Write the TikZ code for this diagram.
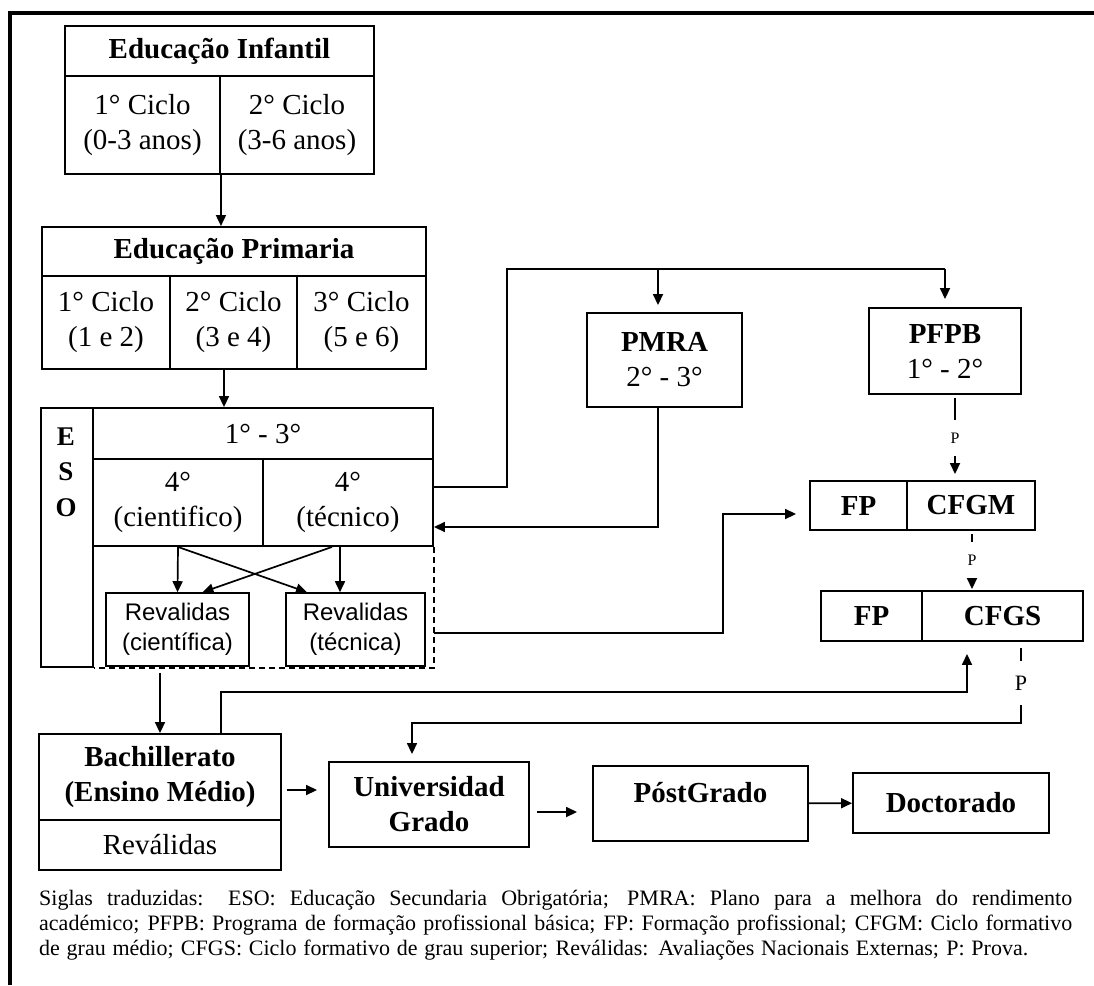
\documentclass[tikz,border=0pt]{standalone}
\usepackage{fontspec}
\setmainfont{Liberation Serif}
\setsansfont{Liberation Sans}
\usepackage{tikz}
\usetikzlibrary{positioning,arrows.meta,calc}
\tikzset{
  cell/.style   = {draw, line width=1.9pt, inner sep=0pt, align=center, font=\fontsize{29}{35}\selectfont},
  tcell/.style  = {cell, font=\fontsize{29}{35}\selectfont\bfseries},
  rcell/.style  = {cell, line width=1.6pt, font=\fontsize{24}{30}\selectfont\sffamily},
  plabel/.style = {inner xsep=2pt, inner ysep=13pt, font=\fontsize{16}{16}\selectfont},
  line/.style   = {line width=1.7pt},
  arr/.style    = {line, -{Triangle[length=11pt, width=10pt]}},
  legend/.style = {inner sep=0pt, align=left, anchor=west, font=\fontsize{22}{25}\selectfont},
}

\begin{document}
\begin{tikzpicture}[x=1pt, y=-1pt]
  \useasboundingbox (0,0) rectangle (1094,985);
  \draw[line width=3.5pt] (10,985) -- (10,13) -- (1094,13);

  \node[tcell, minimum width=309pt, minimum height=50pt] (inft) at (219.5,51) {Educação Infantil};
  \node[cell, minimum width=155pt, minimum height=98pt] (inf1) at (142.5,125) {1° Ciclo\\(0-3 anos)};
  \node[cell, minimum width=154pt, minimum height=98pt] (inf2) at (297,125) {2° Ciclo\\(3-6 anos)};

  \node[tcell, minimum width=384pt, minimum height=49pt] (primt) at (234,251.5) {Educação Primaria};
  \node[cell, minimum width=128pt, minimum height=93pt] (prim1) at (106,322.5) {1° Ciclo\\(1 e 2)};
  \node[cell, minimum width=127pt, minimum height=93pt] (prim2) at (233.5,322.5) {2° Ciclo\\(3 e 4)};
  \node[cell, minimum width=129pt, minimum height=93pt] (prim3) at (361.5,322.5) {3° Ciclo\\(5 e 6)};

  \node[cell, minimum width=52pt, minimum height=259pt] (esol) at (67,537.5) {};
  \node[align=center, inner sep=0pt, font=\fontsize{27}{35.5}\selectfont\bfseries] (esotxt) at (66,472) {E\\S\\O};
  \node[cell, minimum width=340pt, minimum height=51pt] (eso13) at (263,433.5) {1° - 3°};
  \node[cell, minimum width=170pt, minimum height=87pt] (sci) at (178,502.5) {4°\\(cientifico)};
  \node[cell, minimum width=170pt, minimum height=87pt] (tec) at (348,502.5) {4°\\(técnico)};
  \node[rcell, minimum width=143pt, minimum height=73pt] (revc) at (177.5,629.5) {Revalidas\\(científica)};
  \node[rcell, minimum width=139pt, minimum height=73pt] (revt) at (355.5,629.5) {Revalidas\\(técnica)};

  \node[cell, minimum width=155pt, minimum height=94pt] (pmra) at (664.5,360) {\textbf{PMRA}\\2° - 3°};
  \node[cell, minimum width=152pt, minimum height=86pt] (pfpb) at (945,351) {\textbf{PFPB}\\1° - 2°};

  \node[tcell, minimum width=97pt, minimum height=49pt] (fp1) at (858.5,505.5) {FP};
  \node[tcell, minimum width=128pt, minimum height=49pt] (cfgm) at (971,505.5) {CFGM};
  \node[tcell, minimum width=101pt, minimum height=50pt] (fp2) at (871.5,616) {FP};
  \node[tcell, minimum width=161pt, minimum height=50pt] (cfgs) at (1002.5,616) {CFGS};

  \node[plabel] (p1) at (955,438) {P};
  \node[plabel] (p2) at (972,560) {P};
  \node[plabel, inner ysep=15pt, font=\fontsize{22}{22}\selectfont] (p3) at (1021,683) {P};

  \node[tcell, minimum width=242pt, minimum height=86pt] (bach) at (160,777) {Bachillerato\\(Ensino Médio)};
  \node[cell, minimum width=242pt, minimum height=50pt] (bachrev) at (160,845) {Reválidas};
  \node[tcell, minimum width=200pt, minimum height=85pt] (univ) at (429,804.5) {Universidad\\Grado};
  \node[tcell, minimum width=215pt, minimum height=75pt, text height=20pt, text depth=22pt] (pg) at (700.5,803.5) {PóstGrado};
  \node[tcell, minimum width=196pt, minimum height=60pt] (doc) at (951,803) {Doctorado};

  \coordinate (bus) at (507,269);
  \coordinate (bus2) at (0,723);
  \coordinate (pmx) at (658,0);
  \coordinate (pe) at ($(prim2.south)+(-9.5,0)$);

  \draw[arr] (inf1.south east) -- (inf1.south east |- primt.north);
  \draw[arr] (pe) -- (pe |- eso13.north);
  \draw[arr] (sci.south) -- (revc.north);
  \draw[arr] (sci.south) -- ($(revt.north)+(-48.5,0)$);
  \draw[arr] ($(tec.south)+(-16,0)$) -- ($(revc.north)+(25,0)$);
  \draw[arr] ($(tec.south)+(-8,0)$) -- ($(revt.north)+(-15.5,0)$);
  \draw[line, dash pattern=on 6pt off 4pt] (tec.south east) |- (esol.south east);

  \draw[line] ($(tec.east)+(0,-15.5)$) -| (bus) -- (bus -| pfpb.north);
  \draw[arr, shorten >=7pt] (bus -| pmx) -- (pmx |- pmra.north);
  \draw[arr, shorten >=8pt] (bus -| pfpb.north) -- (pfpb.north);
  \draw[arr] (pmx |- pmra.south) |- ($(tec.east)+(0,24.5)$);

  \draw[line, shorten <=3pt] (pfpb.south -| p1) -- (p1);
  \draw[arr, shorten >=6pt] (p1) -- (p1 |- cfgm.north);
  \draw[line, shorten <=3pt] (cfgm.south -| p2) -- (p2);
  \draw[arr, shorten >=1pt] (p2) -- (p2 |- cfgs.north);

  \draw[arr, shorten >=13pt] ($(revt.east -| tec.east)+(0,3.5)$) -- ++(289,0) |- ($(fp1.west)+(0,8.5)$);
  \draw[arr, shorten <=6pt] (revc.south -| bach.north) -- (bach.north);
  \draw[arr, shorten >=12pt] ($(bach.north)+(61,0)$) -- ++(0,-41) -| ($(cfgs.south)+(-35.5,0)$);
  \draw[line, shorten <=6pt] (cfgs.south -| p3) -- (p3);
  \draw[arr, shorten >=7pt] (p3) -- (p3 |- bus2) -| ($(univ.north)+(-17,0)$);

  \draw[arr, shorten <=5pt, shorten >=11pt] ($(bach.east)+(0,13)$) -- ($(univ.west)+(0,-14.5)$);
  \draw[arr, shorten <=7pt, shorten >=15pt] ($(univ.east)+(0,7.5)$) -- ($(pg.west)+(0,8.5)$);
  \draw[arr] (pg) -- (doc);

  \node[legend] (legend) at (39,925) {\makebox[1033pt][s]{Siglas traduzidas: ESO: Educação Secundaria Obrigatória; PMRA: Plano para a melhora do rendimento}\\
    \makebox[1033pt][s]{académico; PFPB: Programa de formação profissional básica; FP: Formação profissional; CFGM: Ciclo formativo}\\
    \makebox[989pt][s]{de grau médio; CFGS: Ciclo formativo de grau superior; Reválidas: Avaliações Nacionais Externas; P: Prova.}};
\end{tikzpicture}
\end{document}
